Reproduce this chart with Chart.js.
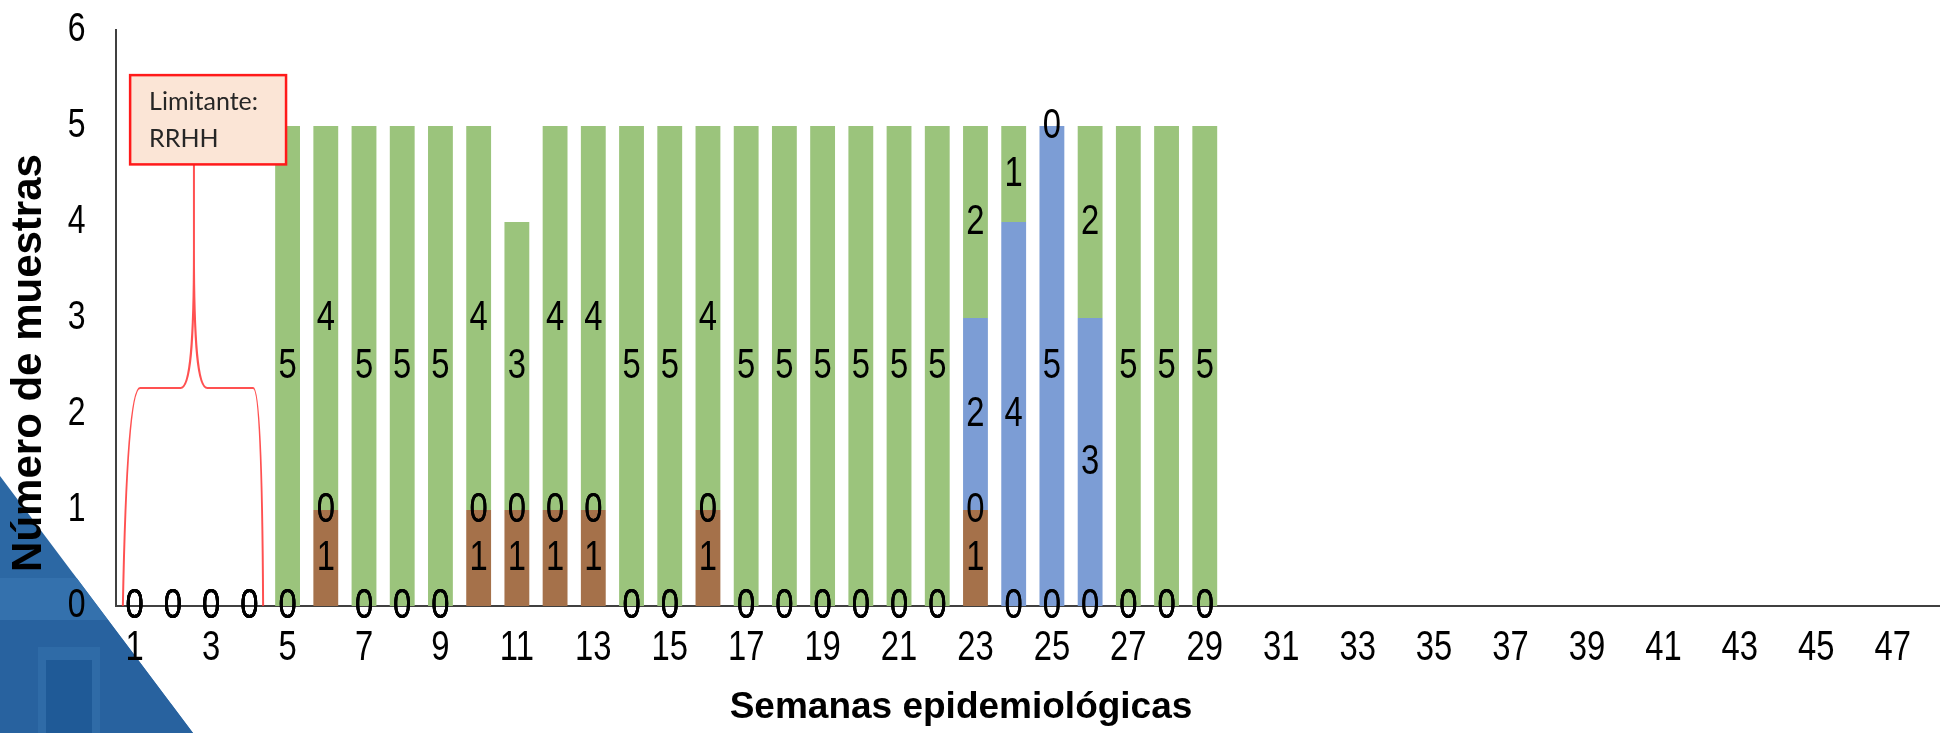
<!DOCTYPE html>
<html lang="es">
<head>
    <meta charset="UTF-8">
    <title>Muestras por semana epidemiológica</title>
    <script src="https://cdn.jsdelivr.net/npm/chart.js"></script>
    <style>
        html, body {
            margin: 0;
            padding: 0;
            background: #fff;
            overflow: hidden;
        }
        #wrap {
            position: relative;
            width: 1950px;
            height: 733px;
        }
        canvas {
            display: block;
        }
    </style>
</head>
<body>
    <div id="wrap"><canvas id="chart" width="1950" height="733"></canvas></div>

    <script>
        // semanas epidemiológicas (eje X)
        const semanas = ['1','2','3','4','5','6','7','8','9','10','11','12','13','14','15','16',
            '17','18','19','20','21','22','23','24','25','26','27','28','29','30','31','32',
            '33','34','35','36','37','38','39','40','41','42','43','44','45','46','47','48'];

        // muestras por semana, semanas 1 a 29
        const positivas   = [0,0,0,0,0,1,0,0,0,1,1,1,1,0,0,1,0,0,0,0,0,0,1,0,0,0,0,0,0];
        const rechazadas  = [0,0,0,0,0,0,0,0,0,0,0,0,0,0,0,0,0,0,0,0,0,0,0,0,0,0,0,0,0];
        const enProceso   = [0,0,0,0,0,0,0,0,0,0,0,0,0,0,0,0,0,0,0,0,0,0,2,4,5,3,0,0,0];
        const negativas   = [0,0,0,0,5,4,5,5,5,4,3,4,4,5,5,4,5,5,5,5,5,5,2,1,0,2,5,5,5];

        const yTicks = [0, 1, 2, 3, 4, 5, 6];

        const NUM_FONT = "42px 'Liberation Sans', Arial, sans-serif";
        const BOLD_FAMILY = "'Liberation Sans', Arial, sans-serif";
        const ESTRECHO = 0.78;   // números condensados

        // texto condensado horizontalmente
        function textoEstrecho(ctx, txt, x, y) {
            ctx.save();
            ctx.translate(x, y);
            ctx.scale(ESTRECHO, 1);
            ctx.fillText(txt, 0, 0);
            ctx.restore();
        }

        // fondo: esquina azul de la plantilla
        const fondo = {
            id: 'fondo',
            beforeDraw(chart) {
                const ctx = chart.ctx;
                ctx.save();
                ctx.fillStyle = '#fff';
                ctx.fillRect(0, 0, chart.width, chart.height);
                ctx.beginPath();
                ctx.moveTo(0, 476);
                ctx.lineTo(193, 733);
                ctx.lineTo(0, 733);
                ctx.closePath();
                ctx.clip();
                ctx.fillStyle = '#2c68a4';
                ctx.fillRect(0, 460, 200, 273);
                ctx.fillStyle = '#3471ad';
                ctx.fillRect(0, 578, 200, 42);
                ctx.fillStyle = '#28629f';
                ctx.fillRect(0, 620, 200, 113);
                ctx.fillStyle = '#2f6ba7';
                ctx.fillRect(38, 647, 62, 86);
                ctx.fillStyle = '#1f5a97';
                ctx.fillRect(46, 660, 46, 73);
                ctx.restore();
            }
        };

        // rótulos de los ejes (números condensados)
        const rotulos = {
            id: 'rotulos',
            afterDraw(chart) {
                const xs = chart.scales.x, ys = chart.scales.y;
                const ctx = chart.ctx;
                ctx.save();
                ctx.font = NUM_FONT;
                ctx.fillStyle = '#000';
                ctx.textBaseline = 'middle';
                ctx.textAlign = 'center';
                xs.ticks.forEach((t, i) => {
                    if (i % 2 !== 0) return;
                    textoEstrecho(ctx, xs.getLabelForValue(t.value), xs.getPixelForTick(i), xs.top + 42);
                });
                ctx.textAlign = 'right';
                ctx.font = "41px 'Liberation Sans', Arial, sans-serif";
                ys.ticks.forEach(t => {
                    textoEstrecho(ctx, String(t.value), ys.right - 30, ys.getPixelForValue(t.value));
                });
                ctx.restore();
            }
        };

        // valor de cada segmento, centrado en el segmento
        const etiquetas = {
            id: 'etiquetas',
            afterDatasetsDraw(chart) {
                const ctx = chart.ctx;
                ctx.save();
                ctx.font = NUM_FONT;
                ctx.fillStyle = '#000';
                ctx.textAlign = 'center';
                ctx.textBaseline = 'middle';
                chart.data.datasets.forEach((ds, i) => {
                    const meta = chart.getDatasetMeta(i);
                    meta.data.forEach((bar, j) => {
                        const v = ds.data[j];
                        if (v === null || v === undefined) return;
                        const p = bar.getProps(['x', 'y', 'base'], true);
                        textoEstrecho(ctx, String(v), p.x, (p.y + p.base) / 2);
                    });
                });
                ctx.restore();
            }
        };

        // llave roja y recuadro "Limitante: RRHH" sobre las semanas 1-4
        const nota = {
            id: 'nota',
            afterDatasetsDraw(chart) {
                const xs = chart.scales.x, ys = chart.scales.y;
                const X = v => xs.getPixelForValue(v);
                const Y = v => ys.getPixelForValue(v);
                const ctx = chart.ctx;
                ctx.save();
                ctx.strokeStyle = 'rgba(255, 50, 50, 0.85)';
                ctx.lineWidth = 2;
                ctx.beginPath();
                ctx.moveTo(X(-0.31), Y(0));
                ctx.quadraticCurveTo(X(-0.20), Y(2.27), X(0.14), Y(2.27));
                ctx.lineTo(X(1.20), Y(2.27));
                ctx.bezierCurveTo(X(1.45), Y(2.27), X(1.55), Y(2.7), X(1.55), Y(3.7));
                ctx.lineTo(X(1.55), Y(4.6));
                ctx.moveTo(X(1.55), Y(3.7));
                ctx.bezierCurveTo(X(1.55), Y(2.7), X(1.65), Y(2.27), X(1.90), Y(2.27));
                ctx.lineTo(X(3.10), Y(2.27));
                ctx.quadraticCurveTo(X(3.33), Y(2.27), X(3.36), Y(0));
                ctx.stroke();

                const bx = X(-0.12), by = Y(5.53);
                const bw = X(3.96) - bx, bh = Y(4.6) - by;
                ctx.fillStyle = '#fbe5d6';
                ctx.fillRect(bx, by, bw, bh);
                ctx.strokeStyle = '#ff1a1a';
                ctx.lineWidth = 2.5;
                ctx.strokeRect(bx, by, bw, bh);
                ctx.fillStyle = '#262626';
                ctx.font = "25px Lato, 'Open Sans', sans-serif";
                ctx.textAlign = 'left';
                ctx.textBaseline = 'alphabetic';
                ctx.fillText('Limitante:', bx + 19, by + 35);
                ctx.fillText('RRHH', bx + 19, by + 72);
                ctx.restore();
            }
        };

        // títulos de los ejes
        const titulos = {
            id: 'titulos',
            afterDraw(chart) {
                const ctx = chart.ctx;
                ctx.save();
                ctx.fillStyle = '#000';
                ctx.textAlign = 'center';
                ctx.textBaseline = 'middle';
                ctx.font = 'bold 37px ' + BOLD_FAMILY;
                ctx.fillText('Semanas epidemiológicas', 961, 708);
                ctx.translate(29, 363);
                ctx.rotate(-Math.PI / 2);
                ctx.font = 'bold 42px ' + BOLD_FAMILY;
                ctx.fillText('Número de muestras', 0, 0);
                ctx.restore();
            }
        };

        const barra = { stack: 's', categoryPercentage: 1, barPercentage: 0.65, borderWidth: 0 };

        new Chart(document.getElementById('chart'), {
            type: 'bar',
            data: {
                labels: semanas,
                datasets: [
                    { ...barra, label: 'Positivas', data: positivas, backgroundColor: '#a5714a' },
                    { ...barra, label: 'Rechazadas', data: rechazadas, backgroundColor: '#c0504d' },
                    { ...barra, label: 'En proceso', data: enProceso, backgroundColor: '#7c9dd5' },
                    { ...barra, label: 'Negativas', data: negativas, backgroundColor: '#9bc47c' }
                ]
            },
            options: {
                responsive: false,
                animation: false,
                devicePixelRatio: 1,
                layout: { padding: { top: 30, right: 0, left: 0, bottom: 0 } },
                plugins: {
                    legend: { display: false },
                    tooltip: { enabled: false }
                },
                scales: {
                    x: {
                        stacked: true,
                        grid: { display: false, drawTicks: false },
                        border: { color: '#404040', width: 2 },
                        ticks: { display: false, autoSkip: false },
                        afterFit(scale) { scale.height = 127; }
                    },
                    y: {
                        stacked: true,
                        min: yTicks[0],
                        max: yTicks[yTicks.length - 1],
                        grid: { display: false, drawTicks: false },
                        border: { color: '#404040', width: 2 },
                        ticks: { display: false, stepSize: 1 },
                        afterFit(scale) { scale.width = 115.6; }
                    }
                }
            },
            plugins: [fondo, etiquetas, nota, titulos, rotulos]
        });
    </script>
</body>
</html>
